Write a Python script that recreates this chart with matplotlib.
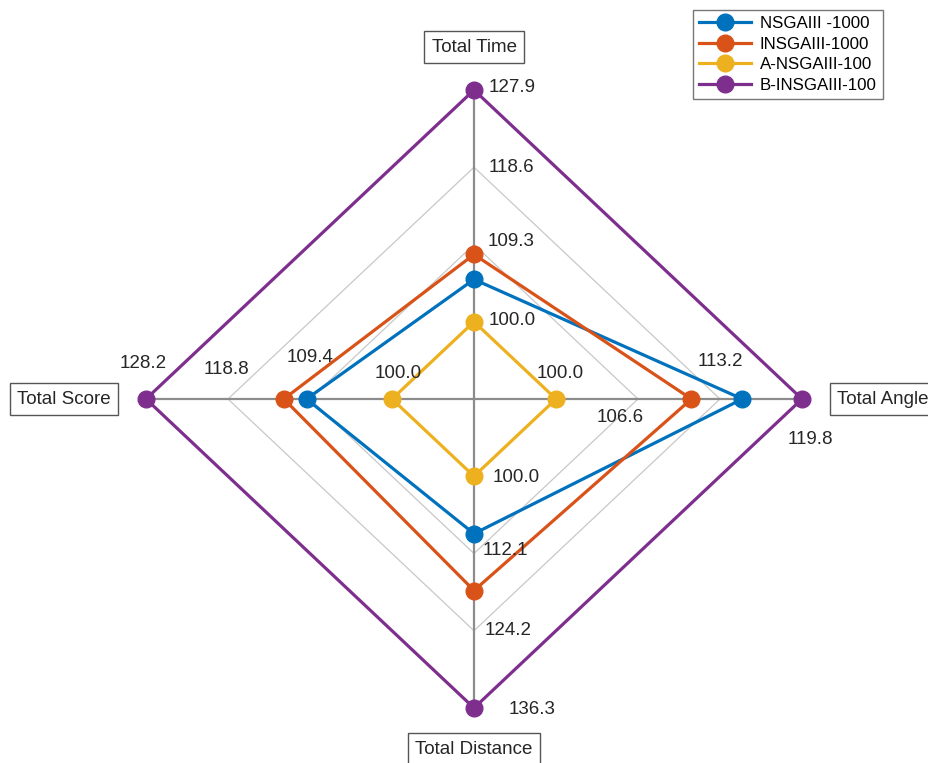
import numpy as np
import matplotlib
matplotlib.use("Agg")
import matplotlib.pyplot as plt

plt.rcParams['font.family'] = ['Liberation Sans', 'DejaVu Sans']

# Axes of the spider plot, clockwise from the top
axis_names = ['Total Time', 'Total Angle', 'Total Distance', 'Total Score']
axis_low = [100.0, 100.0, 100.0, 100.0]      # value on the first ring
axis_high = [127.9, 119.8, 136.3, 128.2]     # value on the outer ring

series_names = ['NSGAIII -1000', 'INSGAIII-1000', 'A-NSGAIII-100', 'B-INSGAIII-100']
nsga_1000 = [105.1, 115.0, 109.0, 109.8]
insga_1000 = [108.1, 110.9, 117.9, 112.4]
a_nsga_100 = [100.0, 100.0, 100.0, 100.0]
b_insga_100 = [127.9, 119.8, 136.3, 128.2]
series_values = [nsga_1000, insga_1000, a_nsga_100, b_insga_100]
series_colors = ['#0072BD', '#D95319', '#EDB120', '#7E2F8E']

n_rings = 4
W, H, DPI = 929, 763, 100
fig = plt.figure(figsize=(W / DPI, H / DPI), dpi=DPI)
ax = fig.add_axes([0, 0, 1, 1])

# pixel geometry of the plot area (centre and radii)
cx, cy, rx, ry = 474.0, 399.0, 328.0, 309.0
ax.set_xlim(-cx / rx, (W - cx) / rx)
ax.set_ylim(-(H - cy) / ry, cy / ry)
ax.axis('off')

# unit direction of each axis: up, right, down, left
dirs = np.array([[0, 1], [1, 0], [0, -1], [-1, 0]], dtype=float)


def ticks_for(i):
    lo, hi = axis_low[i], axis_high[i]
    step = (hi - lo) / (n_rings - 1)
    return lo - step, hi, [lo + k * step for k in range(n_rings)]


def to_xy(i, v):
    centre, hi, _ = ticks_for(i)
    f = (v - centre) / (hi - centre)
    return dirs[i] * f


# grid rings
for k in range(1, n_rings + 1):
    f = k / n_rings
    pts = np.vstack([dirs * f, dirs[:1] * f])
    ax.plot(pts[:, 0], pts[:, 1], color='#c8c8c8', lw=0.9, zorder=1)

# spokes
for d in dirs:
    ax.plot([0, d[0]], [0, d[1]], color='#8c8c8c', lw=1.6, zorder=2)

# data polygons
handles = []
for name, vals, col in zip(series_names, series_values, series_colors):
    pts = np.array([to_xy(i, v) for i, v in enumerate(vals)])
    closed = np.vstack([pts, pts[:1]])
    ax.plot(closed[:, 0], closed[:, 1], color=col, lw=2.3, zorder=3)
    ax.plot(pts[:, 0], pts[:, 1], 'o', color=col, ms=12, zorder=4)
    handles.append(plt.Line2D([], [], color=col, lw=2.3, marker='o', ms=12))

# tick labels: per axis, per ring offsets (pixels) and alignment
tick_layout = [
    [((15, 1), 'left'), ((14, 3), 'left'), ((15, 0), 'left'), ((15, 2), 'left')],
    [((4, 26), 'center'), ((-18, -19), 'center'), ((0, 37), 'center'), ((8, -41), 'center')],
    [((19, -1), 'left'), ((9, 3), 'left'), ((11, 0), 'left'), ((35, -1), 'left')],
    [((6, 26), 'center'), ((0, 41), 'center'), ((-2, 30), 'center'), ((-3, 35), 'center')],
]
tick_fs = 13.5
for i in range(4):
    _, _, tvals = ticks_for(i)
    for k, tv in enumerate(tvals):
        (dx, dy), ha = tick_layout[i][k]
        ax.annotate(f'{tv:.1f}', xy=to_xy(i, tv), xytext=(dx, dy),
                    textcoords='offset pixels', ha=ha, va='center',
                    fontsize=tick_fs, color='#262626', zorder=5)

# axis titles in boxes
title_layout = [((0, 43), 'center', 'center'), ((35, 0), 'left', 'center'),
                ((0, -41), 'center', 'center'), ((-35, 0), 'right', 'center')]
for i, name in enumerate(axis_names):
    (dx, dy), ha, va = title_layout[i]
    ax.annotate(name, xy=dirs[i], xytext=(dx, dy), textcoords='offset pixels',
                ha=ha, va=va, fontsize=tick_fs, color='#262626', zorder=6,
                bbox=dict(boxstyle='square,pad=0.38', fc='white', ec='#555555', lw=1.0),
                annotation_clip=False)

leg = ax.legend(handles, series_names, loc='upper left',
                bbox_to_anchor=(693 / W, 1 - 10 / H), bbox_transform=fig.transFigure,
                fontsize=12.2, frameon=True, fancybox=False, borderaxespad=0,
                handlelength=3.1, handletextpad=0.5, labelspacing=0.33,
                borderpad=0.35)
leg.get_frame().set_edgecolor('#555555')
leg.get_frame().set_linewidth(1.0)

fig.savefig('out.png', dpi=DPI)
